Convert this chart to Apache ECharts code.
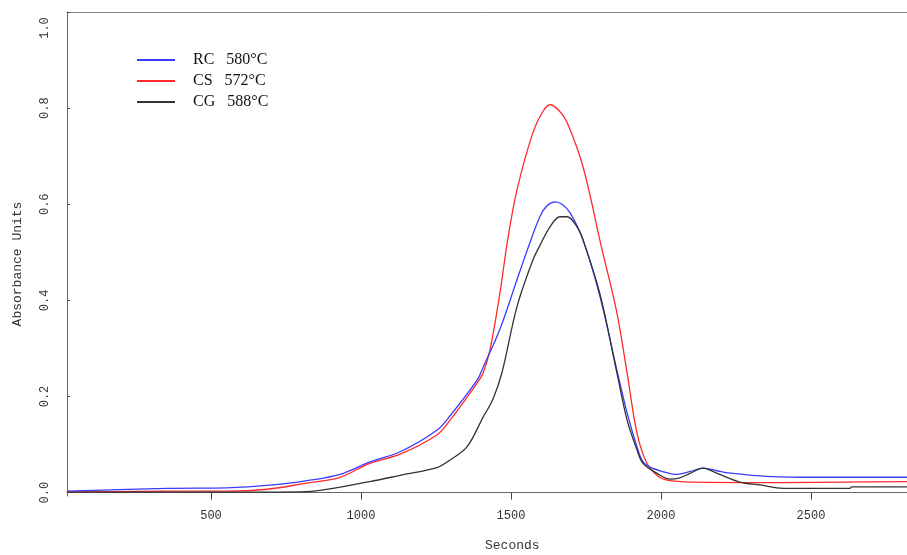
<!DOCTYPE html>
<html><head><meta charset="utf-8">
<script src="https://cdn.jsdelivr.net/npm/echarts@6/dist/echarts.min.js"></script>
<style>html,body{margin:0;padding:0;background:#fff}#c{width:907px;height:555px}</style>
</head><body><div id="c"></div>
<script>
const seriesNames = ['RC   580°C', 'CS   572°C', 'CG   588°C'];
const xTicks = [500, 1000, 1500, 2000, 2500];
const yTicks = [0, 0.2, 0.4, 0.6, 0.8, 1.0];

const rcData = [[20,0.003],[353,0.009],[553,0.010],[707,0.016],[820,0.025],[930,0.038],[1030,0.064],[1130,0.085],[1253,0.130],[1297,0.160],[1387,0.234],[1407,0.261],[1463,0.340],[1520,0.443],[1563,0.520],[1597,0.575],[1620,0.597],[1647,0.605],[1670,0.600],[1697,0.582],[1740,0.526],[1797,0.407],[1853,0.255],[1887,0.166],[1920,0.095],[1940,0.064],[1963,0.053],[2000,0.045],[2053,0.038],[2097,0.044],[2140,0.051],[2190,0.045],[2240,0.040],[2353,0.034],[2520,0.032],[2820,0.032]];
const csData = [[20,0.001],[353,0.003],[553,0.003],[687,0.007],[820,0.020],[930,0.032],[1030,0.061],[1130,0.080],[1253,0.120],[1297,0.151],[1387,0.228],[1407,0.249],[1430,0.297],[1463,0.415],[1490,0.530],[1520,0.630],[1573,0.749],[1605,0.792],[1630,0.807],[1660,0.795],[1687,0.770],[1740,0.678],[1800,0.515],[1853,0.374],[1887,0.249],[1920,0.124],[1953,0.061],[1990,0.034],[2020,0.026],[2100,0.022],[2400,0.021],[2600,0.022],[2820,0.023]];
const cgData = [[20,0.001],[353,0.001],[687,0.001],[820,0.002],[907,0.009],[1030,0.023],[1130,0.036],[1253,0.052],[1297,0.068],[1353,0.095],[1407,0.157],[1440,0.195],[1470,0.250],[1520,0.387],[1573,0.484],[1597,0.515],[1630,0.553],[1663,0.574],[1687,0.574],[1720,0.553],[1740,0.526],[1797,0.412],[1853,0.249],[1887,0.151],[1920,0.089],[1940,0.061],[1987,0.040],[2030,0.028],[2060,0.030],[2097,0.040],[2140,0.051],[2187,0.040],[2263,0.022],[2330,0.016],[2407,0.009],[2630,0.009],[2635,0.012],[2820,0.012]];

const colors = ['#3b3bff', '#ff2a2a', '#333333'];
const chart = echarts.init(document.getElementById('c'), null, {renderer: 'canvas'});
const mono = 'Liberation Mono';
chart.setOption({
  animation: false,
  color: colors,
  grid: {left: 67, right: 0, top: 12, bottom: 59, show: false, containLabel: false},
  legend: {
    orient: 'vertical', left: 132, top: 47, itemWidth: 38, itemHeight: 2, itemGap: 5, icon: 'rect',
    textStyle: {fontFamily: 'Liberation Serif', fontSize: 16, color: '#111', padding: [0,0,0,13], lineHeight: 15},
    data: seriesNames
  },
  graphic: [
    {type: 'text', left: 485, top: 539, style: {text: 'Seconds', font: '13px "Liberation Mono"', fill: '#333'}},
    {type: 'text', x: 18, y: 264, rotation: Math.PI/2, style: {text: 'Absorbance Units', font: '13px "Liberation Mono"', fill: '#333', align: 'center', verticalAlign: 'middle'}}
  ],
  xAxis: [{
    type: 'value', min: 20, max: 2820,
    axisLine: {show: true, lineStyle: {color: '#666'}},
    axisTick: {show: true, length: 7, lineStyle: {color: '#444'}, customValues: xTicks},
    axisLabel: {customValues: xTicks, margin: 14, fontFamily: mono, fontSize: 12, color: '#333', formatter: v => String(v)},
    splitLine: {show: false}
  }, {
    type: 'value', position: 'top', min: 20, max: 2820,
    axisLine: {show: true, lineStyle: {color: '#888'}},
    axisTick: {show: false}, axisLabel: {show: false}, splitLine: {show: false}
  }],
  yAxis: {
    type: 'value', min: -0.007, max: 1.0,
    axisLine: {show: true, lineStyle: {color: '#666'}},
    axisTick: {show: true, inside: true, length: 3, lineStyle: {color: '#444'}, customValues: yTicks},
    axisLabel: {customValues: yTicks, rotate: 90, margin: 16, fontFamily: mono, fontSize: 12, color: '#333',
      formatter: v => v >= 1 ? '{t|' + v.toFixed(1) + '}' : v.toFixed(1),
      rich: {t: {fontFamily: mono, fontSize: 12, color: '#333', padding: [0, 32, 0, 0]}}},
    splitLine: {show: false}
  },
  series: [
    {name: seriesNames[0], type: 'line', data: rcData, symbol: 'none', smooth: 0.35, lineStyle: {width: 1.3}, z: 3},
    {name: seriesNames[1], type: 'line', data: csData, symbol: 'none', smooth: 0.35, lineStyle: {width: 1.3}, z: 2},
    {name: seriesNames[2], type: 'line', data: cgData, symbol: 'none', smooth: 0.35, lineStyle: {width: 1.3}, z: 4}
  ]
});
</script>
</body></html>
